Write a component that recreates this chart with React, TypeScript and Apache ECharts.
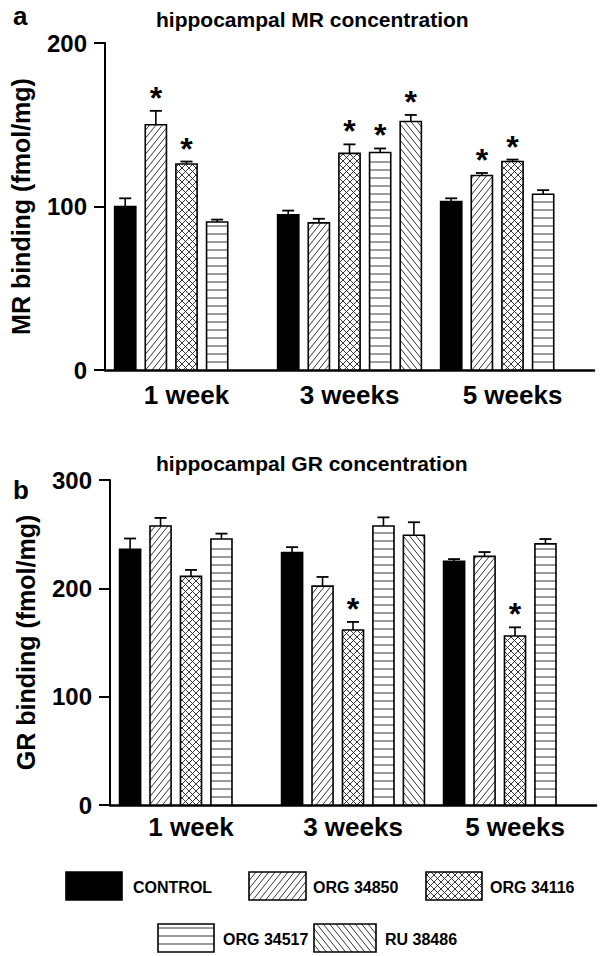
import React, { useEffect, useRef } from 'react';
import * as echarts from 'echarts';

// ---------- data ----------
const categories = ['1 week', '3 weeks', '5 weeks'];
const treatments = ['CONTROL', 'ORG 34850', 'ORG 34116', 'ORG 34517', 'RU 38486'];
const patterns = ['solid', 'fwd', 'cross', 'horiz', 'back'];

// MR binding (fmol/mg), panel a
const mrControl = [100, 95, 103];
const mrOrg34850 = [150, 90, 119];
const mrOrg34116 = [126, 132.5, 127.5];
const mrOrg34517 = [90.5, 133, 107.5];
const mrRu38486 = [null, 152, null];
const mrErrControl = [5, 2.5, 2];
const mrErrOrg34850 = [8.5, 2.5, 1.5];
const mrErrOrg34116 = [1.5, 5.5, 1.2];
const mrErrOrg34517 = [1.5, 2.5, 2.5];
const mrErrRu38486 = [null, 4, null];
const mrSigControl = [0, 0, 0];
const mrSigOrg34850 = [1, 0, 1];
const mrSigOrg34116 = [1, 1, 1];
const mrSigOrg34517 = [0, 1, 0];
const mrSigRu38486 = [0, 1, 0];

// GR binding (fmol/mg), panel b
const grControl = [236, 233, 225];
const grOrg34850 = [257.5, 202, 229.5];
const grOrg34116 = [211, 161.5, 156];
const grOrg34517 = [245.5, 257.5, 241];
const grRu38486 = [null, 249, null];
const grErrControl = [10, 5, 2];
const grErrOrg34850 = [7.5, 8.5, 4];
const grErrOrg34116 = [6, 7.5, 8];
const grErrOrg34517 = [5, 8, 4.5];
const grErrRu38486 = [null, 12, null];
const grSigControl = [0, 0, 0];
const grSigOrg34850 = [0, 0, 0];
const grSigOrg34116 = [0, 1, 1];
const grSigOrg34517 = [0, 0, 0];
const grSigRu38486 = [0, 0, 0];

const mrTicks = [0, 100, 200];
const grTicks = [0, 100, 200, 300];

const mrMeans = [mrControl, mrOrg34850, mrOrg34116, mrOrg34517, mrRu38486];
const mrErrs = [mrErrControl, mrErrOrg34850, mrErrOrg34116, mrErrOrg34517, mrErrRu38486];
const mrSigs = [mrSigControl, mrSigOrg34850, mrSigOrg34116, mrSigOrg34517, mrSigRu38486];
const grMeans = [grControl, grOrg34850, grOrg34116, grOrg34517, grRu38486];
const grErrs = [grErrControl, grErrOrg34850, grErrOrg34116, grErrOrg34517, grErrRu38486];
const grSigs = [grSigControl, grSigOrg34850, grSigOrg34116, grSigOrg34517, grSigRu38486];

// ---------- layout / style ----------
const FONT = '"Liberation Sans", Arial, Helvetica, sans-serif';
const legendLayout = [
  { x: 66, y: 872, w: 56, h: 28, tx: 133 },
  { x: 249, y: 872, w: 57, h: 28, tx: 313 },
  { x: 426, y: 872, w: 56, h: 28, tx: 490 },
  { x: 158, y: 924, w: 56, h: 28, tx: 223 },
  { x: 314, y: 924, w: 62, h: 28, tx: 385 },
];

function hatchSegs(x0: number, y0: number, x1: number, y1: number, kind: string) {
  const segs: number[][] = [];
  const diag = (k: number, s: number, dir: number) => {
    const cs = [y0 + dir * k * x0, y0 + dir * k * x1, y1 + dir * k * x0, y1 + dir * k * x1];
    const cmin = Math.min(...cs);
    const cmax = Math.max(...cs);
    for (let c = Math.ceil(cmin / s) * s; c <= cmax; c += s) {
      const xa = (c - y0) / (dir * k);
      const xb = (c - y1) / (dir * k);
      const lo = Math.max(x0, Math.min(xa, xb));
      const hi = Math.min(x1, Math.max(xa, xb));
      if (hi - lo < 0.6) continue;
      segs.push([lo, c - dir * k * lo, hi, c - dir * k * hi]);
    }
  };
  if (kind === 'horiz') {
    for (let y = y1 - 8; y > y0 + 2; y -= 8) segs.push([x0, y, x1, y]);
  } else if (kind === 'fwd') {
    diag(1.25, 8, 1);
  } else if (kind === 'back') {
    diag(1.25, 8, -1);
  } else if (kind === 'cross') {
    diag(1, 7, 1);
    diag(1, 7, -1);
  }
  return segs;
}

function boxElements(x: number, y: number, w: number, h: number, kind: string) {
  const out: any[] = [];
  out.push({
    type: 'rect',
    shape: { x, y, width: w, height: h },
    style: { fill: kind === 'solid' ? '#000' : '#fff', stroke: 'none' },
  });
  if (kind !== 'solid') {
    hatchSegs(x, y, x + w, y + h, kind).forEach((s) => {
      out.push({
        type: 'line',
        shape: { x1: s[0], y1: s[1], x2: s[2], y2: s[3] },
        style: { stroke: '#222', lineWidth: 0.9 },
      });
    });
  }
  out.push({
    type: 'rect',
    shape: { x, y, width: w, height: h },
    style: { fill: 'none', stroke: '#000', lineWidth: 1.6 },
  });
  return out;
}

function makeSeries(panel: number, means: any[], errs: any[], sigs: any[]) {
  return treatments.map((name, t) => {
    const data: any[] = [];
    categories.forEach((_, ci) => {
      const v = means[t][ci];
      if (v !== null && v !== undefined) data.push([ci, v, errs[t][ci], sigs[t][ci]]);
    });
    return {
      type: 'custom',
      name,
      xAxisIndex: panel,
      yAxisIndex: panel,
      encode: { x: 0, y: 1 },
      data,
      renderItem: (params: any, api: any) => {
        const ci = api.value(0);
        const val = api.value(1);
        const err = api.value(2);
        const sig = api.value(3);
        const band = api.size([1, 0])[0];
        const pitch = band * 0.188;
        const bw = band * 0.13;
        const base = api.coord([ci, 0]);
        const top = api.coord([ci, val]);
        const errTop = api.coord([ci, val + err])[1];
        const cx = base[0] + (t - 2) * pitch;
        const x0 = cx - bw / 2;
        const children: any[] = boxElements(x0, top[1], bw, base[1] - top[1], patterns[t]);
        children.push({
          type: 'line',
          shape: { x1: cx, y1: top[1], x2: cx, y2: errTop },
          style: { stroke: '#000', lineWidth: 1.6 },
        });
        children.push({
          type: 'line',
          shape: { x1: cx - 6, y1: errTop, x2: cx + 6, y2: errTop },
          style: { stroke: '#000', lineWidth: 1.8 },
        });
        if (sig) {
          children.push({
            type: 'text',
            style: {
              text: '*',
              x: cx,
              y: errTop - 13,
              align: 'center',
              verticalAlign: 'middle',
              font: 'bold 32px ' + FONT,
              fill: '#000',
            },
          });
        }
        return { type: 'group', children };
      },
    };
  });
}

export default function App() {
  const ref = useRef<HTMLDivElement>(null);
  useEffect(() => {
    if (!ref.current) return;
    const chart = echarts.init(ref.current, null, { renderer: 'svg' });

    const legendChildren: any[] = [];
    treatments.forEach((name, t) => {
      const L = legendLayout[t];
      boxElements(L.x, L.y, L.w, L.h, patterns[t]).forEach((e) => legendChildren.push(e));
      legendChildren.push({
        type: 'text',
        style: {
          text: name,
          x: L.tx,
          y: L.y + L.h / 2 + 1,
          align: 'left',
          verticalAlign: 'middle',
          font: 'bold 16px ' + FONT,
          fill: '#000',
        },
      });
    });

    const xAxisCommon = {
      type: 'category',
      data: categories,
      boundaryGap: true,
      axisTick: { show: false },
      axisLine: { lineStyle: { color: '#000', width: 2.5 } },
      axisLabel: { color: '#000', fontFamily: FONT, fontWeight: 'bold', fontSize: 26 },
      splitLine: { show: false },
    };
    const yAxisCommon = {
      type: 'value',
      min: 0,
      interval: 100,
      nameLocation: 'middle',
      nameGap: 72,
      nameTextStyle: { color: '#000', fontFamily: FONT, fontWeight: 'bold', fontSize: 25 },
      axisLine: { show: true, lineStyle: { color: '#000', width: 2 } },
      axisTick: { show: true, length: 11, lineStyle: { color: '#000', width: 2 } },
      axisLabel: { color: '#000', fontFamily: FONT, fontWeight: 'bold', fontSize: 24, margin: 18 },
      splitLine: { show: false },
    };

    const option: any = {
      animation: false,
      backgroundColor: '#fff',
      title: [
        {
          text: 'hippocampal MR concentration',
          left: 151,
          top: 4,
          textStyle: { color: '#000', fontFamily: FONT, fontWeight: 'bold', fontSize: 21 },
        },
        {
          text: 'hippocampal GR concentration',
          left: 151,
          top: 448,
          textStyle: { color: '#000', fontFamily: FONT, fontWeight: 'bold', fontSize: 21 },
        },
        {
          text: 'a',
          left: 8,
          top: -2,
          textStyle: { color: '#000', fontFamily: FONT, fontWeight: 'bold', fontSize: 26 },
        },
        {
          text: 'b',
          left: 8,
          top: 472,
          textStyle: { color: '#000', fontFamily: FONT, fontWeight: 'bold', fontSize: 26 },
        },
      ],
      grid: [
        { left: 105, top: 43, width: 489, height: 327 },
        { left: 110, top: 480, width: 486, height: 325 },
      ],
      xAxis: [
        { ...xAxisCommon, gridIndex: 0, axisLabel: { ...xAxisCommon.axisLabel, margin: 12 } },
        { ...xAxisCommon, gridIndex: 1, axisLabel: { ...xAxisCommon.axisLabel, margin: 9 } },
      ],
      yAxis: [
        {
          ...yAxisCommon,
          gridIndex: 0,
          max: mrTicks[mrTicks.length - 1],
          name: 'MR binding (fmol/mg)',
        },
        {
          ...yAxisCommon,
          gridIndex: 1,
          max: grTicks[grTicks.length - 1],
          name: 'GR binding (fmol/mg)',
        },
      ],
      series: [
        ...makeSeries(0, mrMeans, mrErrs, mrSigs),
        ...makeSeries(1, grMeans, grErrs, grSigs),
      ],
      graphic: [{ type: 'group', children: legendChildren }],
    };
    chart.setOption(option);
    return () => chart.dispose();
  }, []);
  return (
    <div
      ref={ref}
      style={{ position: 'absolute', left: 0, top: 0, width: 600, height: 956, background: '#fff' }}
    />
  );
}
